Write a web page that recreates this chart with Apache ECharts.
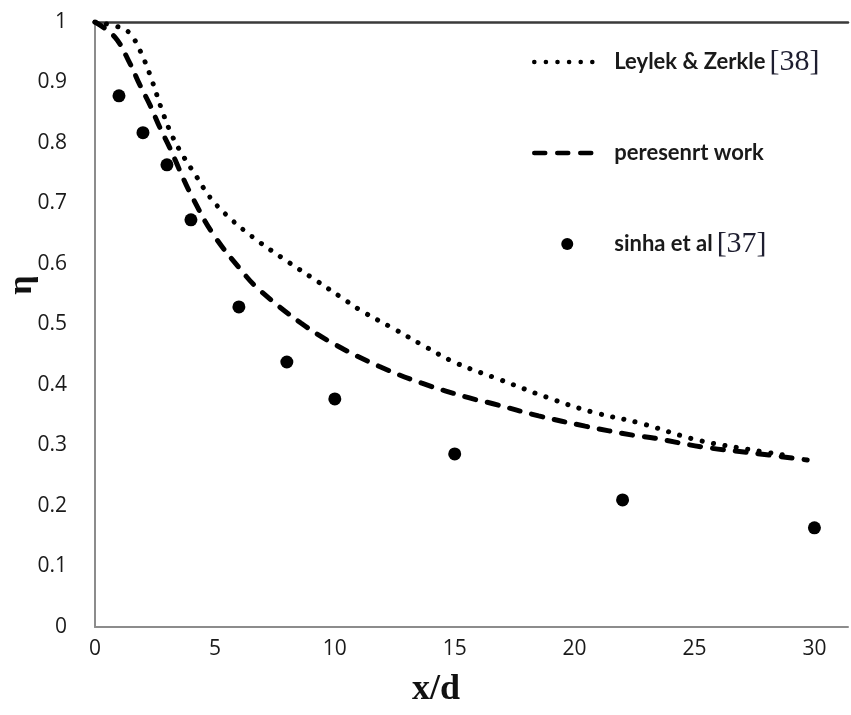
<!DOCTYPE html>
<html>
<head>
<meta charset="utf-8">
<script src="https://cdn.jsdelivr.net/npm/echarts@6/dist/echarts.min.js"></script>
<style>
html,body{margin:0;padding:0;background:#fff;}
#c{width:851px;height:715px;}
</style>
</head>
<body>
<div id="c"></div>
<script>
// Data
var xTicks = [0, 5, 10, 15, 20, 25, 30];
var yTicks = [0, 0.1, 0.2, 0.3, 0.4, 0.5, 0.6, 0.7, 0.8, 0.9, 1];

var leylekX = [0, 1.12, 1.54, 2.0, 2.37, 2.83, 3.24, 3.7, 4.24, 4.78, 5.48, 6.56, 7.81, 9.06, 10.3, 11.13, 12.46, 13.79, 15.08, 16.95, 18.82, 20.77, 22.73, 25.13, 27.5, 28.8];
var leylekY = [1.0, 0.99, 0.977, 0.942, 0.904, 0.85, 0.81, 0.777, 0.744, 0.711, 0.681, 0.645, 0.61, 0.577, 0.544, 0.522, 0.493, 0.463, 0.436, 0.408, 0.38, 0.355, 0.337, 0.309, 0.292, 0.284];

var presentX = [0, 0.83, 1.45, 1.87, 2.29, 2.7, 3.12, 3.53, 3.95, 4.9, 6.15, 6.86, 8.6, 10.05, 11.84, 13.63, 15.58, 16.6, 18.5, 20.44, 22.43, 23.35, 25.26, 27.34, 29.7];
var presentY = [1.0, 0.975, 0.932, 0.896, 0.863, 0.826, 0.792, 0.755, 0.719, 0.651, 0.587, 0.557, 0.502, 0.466, 0.431, 0.403, 0.379, 0.369, 0.349, 0.332, 0.317, 0.312, 0.298, 0.288, 0.276];

var sinhaX = [1, 2, 3, 4, 6, 8, 10, 15, 22, 30];
var sinhaY = [0.878, 0.817, 0.764, 0.673, 0.529, 0.438, 0.377, 0.286, 0.210, 0.164];

var seriesNames = ['Leylek & Zerkle [38]', 'peresenrt work', 'sinha et al [37]'];

function pairs(xs, ys) { return xs.map(function (x, i) { return [x, ys[i]]; }); }

var chart = echarts.init(document.getElementById('c'), null, {renderer: 'canvas'});
var labelFont = '"Open Sans", "Liberation Sans", sans-serif';

chart.setOption({
  backgroundColor: '#ffffff',
  animation: false,
  grid: {left: 95, top: 22, right: 0, bottom: 88, containLabel: false},
  xAxis: [{
    type: 'value', min: 0, max: 31.4, interval: 5, position: 'bottom',
    axisLine: {show: true, lineStyle: {color: '#8c8c8c', width: 2}},
    axisTick: {show: false},
    splitLine: {show: false},
    axisLabel: {
      margin: 12, color: '#1a1a1a', fontSize: 21, fontFamily: labelFont,
      formatter: function (v) { return xTicks.indexOf(Math.round(v * 100) / 100) >= 0 ? String(Math.round(v)) : ''; },
      showMaxLabel: true
    }
  }, {
    type: 'value', min: 0, max: 31.4, position: 'top',
    axisLine: {show: true, onZero: false, lineStyle: {color: '#3a3a3a', width: 2.5}},
    axisTick: {show: false}, axisLabel: {show: false}, splitLine: {show: false}
  }],
  yAxis: {
    type: 'value', min: 0, max: 1, interval: 0.1,
    axisLine: {show: true, lineStyle: {color: '#8c8c8c', width: 2}},
    axisTick: {show: false},
    splitLine: {show: false},
    axisLabel: {
      margin: 28, color: '#1a1a1a', fontSize: 21, fontFamily: labelFont,
      formatter: function (v) { return String(Math.round(v * 10) / 10); }
    }
  },
  legend: {
    orient: 'vertical', left: 532, top: 47, padding: 0,
    itemWidth: 66, itemHeight: 12, itemGap: 65,
    data: [
      {name: seriesNames[0], itemStyle: {opacity: 0}},
      {name: seriesNames[1], itemStyle: {opacity: 0}},
      {name: seriesNames[2]}
    ],
    lineStyle: {width: 4.5},
    textStyle: {
      rich: {
        a: {fontFamily: 'Lato, "Open Sans", sans-serif', fontWeight: 'bold', fontSize: 22, color: '#1a1a1a', lineHeight: 30, padding: [0, 0, 0, 9]},
        b: {fontFamily: '"Liberation Serif", "DejaVu Serif", serif', fontSize: 30, color: '#1e1e30', lineHeight: 30, padding: [0, 0, 0, 4]}
      }
    },
    formatter: function (name) {
      var i = name.indexOf('[');
      if (i >= 0) { return '{a|' + name.slice(0, i).trim() + '}{b|' + name.slice(i) + '}'; }
      return '{a|' + name + '}';
    }
  },
  graphic: [{
    type: 'text',
    style: {text: 'x/d', font: 'bold 36px "Liberation Serif", serif', fill: '#111', textAlign: 'center', textVerticalAlign: 'middle'},
    position: [436, 690]
  }, {
    type: 'text', rotation: Math.PI / 2,
    style: {text: 'η', font: 'bold 34px "Liberation Serif", serif', fill: '#111', textAlign: 'center', textVerticalAlign: 'middle'},
    position: [22, 285]
  }],
  series: [{
    name: seriesNames[0], type: 'line', xAxisIndex: 0,
    data: pairs(leylekX, leylekY),
    smooth: 0.4, symbol: 'none', showSymbol: false,
    lineStyle: {color: '#000', width: 5, type: [0.1, 11.5], cap: 'round'},
    itemStyle: {color: '#000'}
  }, {
    name: seriesNames[1], type: 'line', xAxisIndex: 0,
    data: pairs(presentX, presentY),
    smooth: 0.4, symbol: 'none', showSymbol: false,
    lineStyle: {color: '#000', width: 5, type: [11, 12], cap: 'round'},
    itemStyle: {color: '#000'}
  }, {
    name: seriesNames[2], type: 'scatter', xAxisIndex: 0,
    data: pairs(sinhaX, sinhaY),
    symbol: 'circle', symbolSize: 13,
    itemStyle: {color: '#000', opacity: 1}
  }]
});
</script>
</body>
</html>
